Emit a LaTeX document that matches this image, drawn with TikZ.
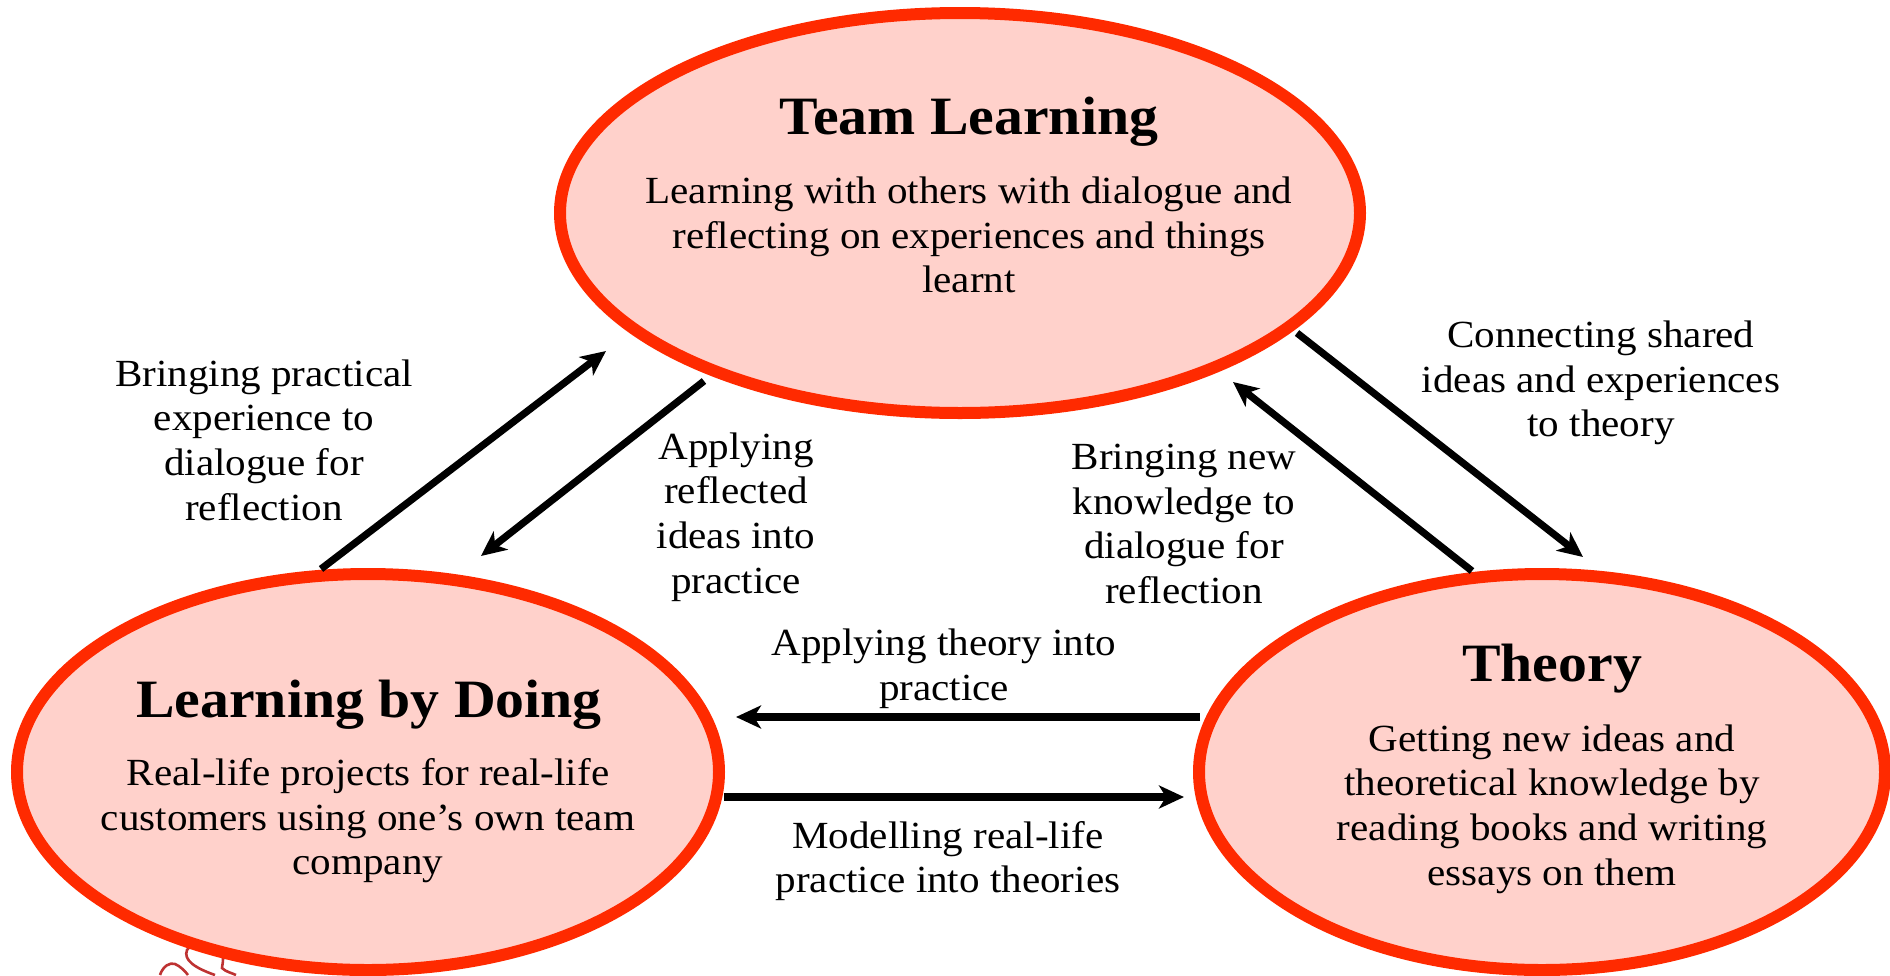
\documentclass[tikz,border=0pt]{standalone}
\usepackage{fontspec}
\setmainfont[FakeStretch=1.07]{Liberation Serif}
\usetikzlibrary{arrows.meta,shapes.geometric}
\definecolor{ringred}{RGB}{255,42,0}
\definecolor{ringfill}{RGB}{255,209,203}
\definecolor{squiggle}{RGB}{190,50,50}
\tikzset{
  x=0.5pt,y=-0.5pt,
  bubble/.style={ellipse,draw=ringred,fill=ringfill,line width=6pt,inner sep=0pt,outer sep=0pt},
  heading/.style={font=\fontsize{27}{31}\selectfont\bfseries,anchor=center,inner sep=0pt},
  body/.style={font=\fontsize{19.2}{22.3}\selectfont,align=center,anchor=center,inner sep=0pt},
  flow/.style={line width=3.6pt,-{Stealth[length=12.5pt,width=11.5pt,inset=3.5pt]}},
  scrawl/.style={draw=squiggle,line width=1.3pt}
}
\begin{document}
\begin{tikzpicture}
\path[use as bounding box] (0,0) rectangle (1890,975);
\begin{scope}
\clip (0,0) rectangle (1890,975);
\path[scrawl] (222,950) .. controls (212,938) and (195,938) .. (187,950) .. controls (183,960) and (195,968) .. (215,975);
\path[scrawl] (218,945) .. controls (226,955) and (222,965) .. (222,968) .. controls (226,972) and (232,973) .. (236,975);
\path[scrawl] (160,975) .. controls (163,966) and (170,962) .. (175,964) .. controls (180,966) and (185,971) .. (188,975);
\node[bubble,minimum width=400pt,minimum height=200pt] (team) at (960,213) {};
\node[bubble,minimum width=351pt,minimum height=198pt] (doing) at (368,772) {};
\node[bubble,minimum width=343pt,minimum height=198pt] (theory) at (1542,772) {};
\end{scope}
\node[heading] (teamT) at (969,122) {Team Learning};
\node[body] (teamB) at (969,235) {Learning with others with dialogue and\\reflecting on experiences and things\\learnt};
\node[heading] (doingT) at (369,705) {Learning by Doing};
\node[body] (doingB) at (368,821) {Real-life projects for real-life\\customers using one’s own team\\company};
\node[heading] (theoryT) at (1552,669) {Theory};
\node[body] (theoryB) at (1552,809) {Getting new ideas and\\theoretical knowledge by\\reading books and writing\\essays on them};
\node[body] (l1) at (264,440) {Bringing practical\\experience to\\dialogue for\\reflection};
\node[body] (l2) at (736,517) {Applying\\reflected\\ideas into\\practice};
\node[body] (l3) at (1184,524) {Bringing new\\knowledge to\\dialogue for\\reflection};
\node[body] (l4) at (1601,383) {Connecting shared\\ideas and experiences\\to theory};
\node[body] (l5) at (944,669) {Applying theory into\\practice};
\node[body] (l6) at (948,861) {Modelling real-life\\practice into theories};
\coordinate (a1s) at (321,569); \coordinate (a1e) at (606,351);
\coordinate (a2s) at (704,381); \coordinate (a2e) at (481,556);
\coordinate (a3s) at (1472,571); \coordinate (a3e) at (1233,382);
\coordinate (a4s) at (1297,333); \coordinate (a4e) at (1583,557);
\coordinate (a5s) at (1200,717); \coordinate (a5e) at (736,717);
\coordinate (a6s) at (724,797); \coordinate (a6e) at (1184,797);
\draw[flow] (a1s) -- (a1e);
\draw[flow] (a2s) -- (a2e);
\draw[flow] (a3s) -- (a3e);
\draw[flow] (a4s) -- (a4e);
\draw[flow] (a5s) -- (a5e);
\draw[flow] (a6s) -- (a6e);
\end{tikzpicture}
\end{document}
